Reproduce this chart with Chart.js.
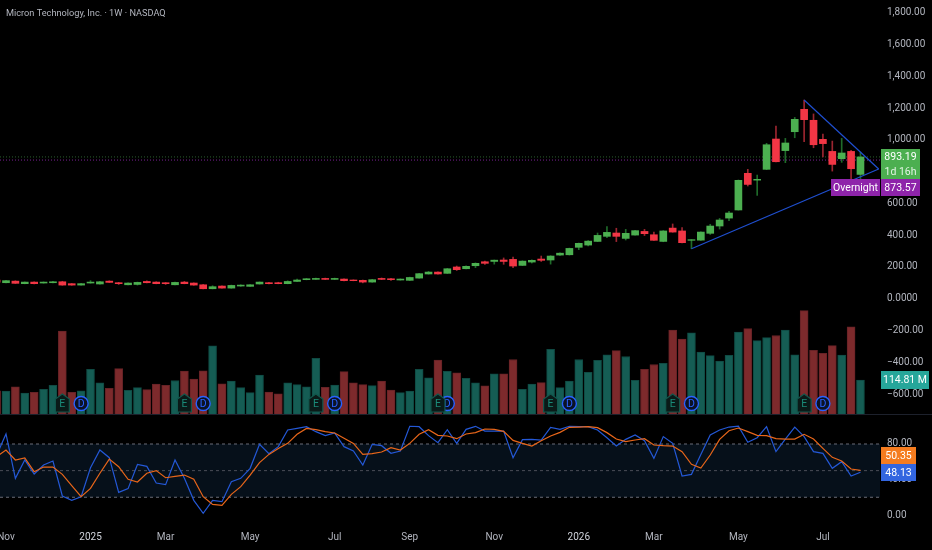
<!DOCTYPE html>
<html>
<head>
<meta charset="utf-8">
<title>Micron Technology</title>
<script src="https://cdn.jsdelivr.net/npm/chart.js@4/dist/chart.umd.min.js"></script>
<style>
  html, body { margin: 0; padding: 0; background: #000; overflow: hidden; }
  canvas { display: block; }
</style>
</head>
<body>
<canvas id="chart" width="932" height="550"></canvas>
<script>
// weekly candles, oldest first
const opens = [
  118, 101, 111, 95, 105, 99, 101, 107, 95, 86,
  99, 93, 111, 101, 88, 90, 109, 105, 101, 88,
  105, 99, 88, 63, 80, 67, 80, 78, 93, 101,
  101, 95, 109, 120, 122, 128, 122, 124, 118, 116,
  105, 128, 126, 118, 116, 130, 156, 168, 160, 200,
  189, 208, 233, 235, 244, 248, 210, 231, 250, 244,
  275, 277, 324, 338, 361, 393, 414, 380, 401, 424,
  403, 361, 445, 427, 368, 369, 412, 458, 508, 559,
  790, 747, 815, 1006, 933, 1052, 1193, 1124, 1004, 928,
  882, 928, 783
];
const closes = [
  105, 114, 97, 105, 95, 105, 107, 86, 86, 95,
  105, 107, 103, 95, 99, 103, 101, 95, 95, 103,
  95, 86, 63, 76, 67, 84, 86, 88, 105, 95,
  95, 109, 118, 126, 128, 122, 128, 114, 114, 105,
  120, 122, 120, 124, 134, 158, 168, 156, 189, 183,
  204, 223, 223, 243, 235, 206, 237, 242, 242, 269,
  287, 317, 349, 363, 399, 418, 393, 412, 429, 410,
  368, 427, 420, 353, 372, 420, 458, 496, 540, 746,
  720, 752, 970, 863, 981, 1130, 1128, 970, 977, 846,
  918, 819, 893.19
];
const highs = [
  120, 116, 113, 106, 107, 106, 110, 110, 96, 97,
  114, 109, 113, 103, 100, 105, 113, 107, 102, 105,
  109, 100, 90, 82, 82, 86, 88, 90, 106, 104,
  104, 113, 124, 128, 130, 130, 130, 125, 119, 118,
  122, 131, 128, 125, 136, 160, 172, 170, 191, 206,
  208, 226, 238, 244, 257, 263, 239, 245, 269, 271,
  289, 319, 351, 367, 414, 454, 444, 437, 431, 437,
  420, 429, 471, 448, 372, 422, 469, 506, 550, 748,
  815, 779, 979, 1088, 1010, 1142, 1252, 1164, 1037, 993,
  1010, 934, 924
];
const lows = [
  104, 100, 96, 94, 94, 98, 100, 85, 85, 85,
  98, 92, 102, 90, 87, 86, 100, 94, 90, 87,
  94, 85, 62, 62, 66, 66, 78, 77, 92, 94,
  94, 94, 108, 119, 121, 121, 121, 113, 113, 100,
  104, 121, 115, 117, 115, 129, 155, 155, 159, 178,
  188, 196, 216, 218, 217, 196, 209, 225, 235, 218,
  273, 275, 309, 333, 360, 385, 360, 370, 400, 398,
  367, 359, 419, 352, 315, 367, 405, 439, 491, 558,
  710, 651, 813, 862, 857, 1014, 989, 951, 893, 804,
  859, 752, 756
];
// volume in millions
const volumes = [
  78, 77, 92, 71, 73, 83, 97, 280, 73, 78,
  151, 105, 87, 153, 80, 89, 82, 101, 97, 113,
  145, 118, 146, 230, 102, 111, 89, 72, 131, 74,
  68, 105, 99, 92, 188, 90, 98, 143, 105, 99,
  96, 111, 81, 72, 77, 151, 122, 182, 144, 139,
  120, 105, 95, 136, 136, 184, 83, 101, 106, 218,
  89, 111, 184, 141, 181, 200, 214, 194, 114, 151,
  167, 171, 283, 253, 274, 209, 197, 179, 198, 277,
  288, 248, 258, 265, 283, 200, 349, 215, 205, 231,
  199, 294, 114.81
];
const stochK = [
  67.6, 91.3, 41.3, 62, 46.2, 56.3, 60.8, 21.4, 16.5, 20.6,
  53.3, 73.2, 64.6, 25.5, 29.7, 57, 54.8, 36, 34.2, 62,
  41.3, 16.5, 1.9, 16.5, 15, 37.5, 41.3, 52.6, 79.6, 69.1,
  77, 95.8, 97.6, 99.5, 93.9, 89.4, 92.4, 77, 72.1, 56.3,
  79.6, 78.1, 69.5, 72.1, 100, 99.5, 89.4, 81.5, 96.1, 80.7,
  96.5, 99.9, 94.6, 94.6, 94.6, 64.6, 84.9, 85.2, 84.5, 98.8,
  96.5, 100, 99.5, 99.5, 95.8, 87.1, 77.7, 85.2, 90.1, 83.7,
  63.8, 88.3, 80.7, 43.9, 45.8, 68.3, 90.1, 95.8, 99.1, 100,
  81.9, 87.1, 99.5, 71.4, 85.6, 99.1, 88.3, 71.4, 69.5, 52.6,
  60.1, 43.9, 48.13
];
const stochD = [
  65.7, 73.2, 62, 64.2, 48.8, 54, 54, 45.8, 33, 20.6,
  30, 47, 63, 54.4, 40.2, 37.2, 47, 50, 42, 43.6,
  45, 40.2, 20.6, 12, 10.9, 23.3, 31.9, 45, 59, 68.3,
  75, 80.7, 90.9, 97.6, 96.1, 93.9, 92.4, 86.4, 80.7, 68.3,
  69.1, 71, 75.9, 73.2, 80.7, 90.9, 96.1, 89.8, 89, 86,
  91.3, 92.8, 96.9, 96.5, 94.3, 84.1, 80.7, 77.7, 83.7, 89,
  93.1, 98.8, 99.1, 99.5, 98.4, 92.8, 85.6, 82.6, 84.5, 86,
  78.9, 78.1, 77.7, 71.4, 57.1, 52.9, 67.6, 85.2, 95, 98,
  93.9, 89.8, 89.4, 86, 85.6, 85.6, 90.9, 85.6, 75.1, 65,
  60.8, 51.8, 50.35
];

const priceTicks = [1800, 1600, 1400, 1200, 1000, 600, 400, 200, 0, -200, -400, -600];
const priceTickLabels = ["1,800.00", "1,600.00", "1,400.00", "1,200.00", "1,000.00", "600.00", "400.00", "200.00", "0.0000", "−200.00", "−400.00", "−600.00"];
const stochTicks = [80, 40, 0];
const stochBands = [80, 50, 20];
const monthBars = [1, 10, 18, 27, 36, 44, 53, 62, 70, 79, 88];
const monthLabels = ["Nov", "2025", "Mar", "May", "Jul", "Sep", "Nov", "2026", "Mar", "May", "Jul"];
const earningsBars = [7, 20, 34, 47, 59, 72, 86];
const dividendBars = [9, 22, 36, 48, 61, 74, 88];
const upperTrend = [[86, 1252], [93.94, 817]];
const lowerTrend = [[74, 315], [93.94, 817]];
const lastClose = 893.19;
const overnightPrice = 873.57;

// visible range of the shared time axis
const xFirst = 0.361;
const xLast = 94.08;

const GREEN = "#4caf50", RED = "#f23645";
const TEXT = "#b2b5be";
const FONT = "Roboto, sans-serif";

const isDown = i => closes[i] < opens[i];
const toPoints = arr => arr.map((v, i) => ({ x: i, y: v }));
const fullWidth = v => [{ x: xFirst, y: v }, { x: xLast, y: v }];

// chart.js assumes the first and last tick sit at the axis ends, they don't here
function noPadding(s) {
  s.paddingLeft = s.paddingRight = s.paddingTop = s.paddingBottom = 0;
}

function levelLine(value, axis, color, dash, order) {
  return {
    type: "line", yAxisID: axis, data: fullWidth(value), order,
    borderColor: color, borderWidth: 1, borderDash: dash, pointRadius: 0, tension: 0
  };
}

const overlays = {
  id: "overlays",
  afterDatasetsDraw(chart) {
    const { ctx, scales } = chart;
    const xs = scales.x, baseY = scales.yVol.getPixelForValue(0);
    ctx.save();

    // pane separator
    ctx.strokeStyle = "#1e222d";
    ctx.beginPath();
    ctx.moveTo(0, baseY + 0.5);
    ctx.lineTo(932, baseY + 0.5);
    ctx.stroke();

    ctx.textAlign = "center";
    ctx.textBaseline = "middle";
    ctx.font = "10.5px " + FONT;

    // D markers first, the E flags sit over them
    dividendBars.forEach(i => {
      const x = xs.getPixelForValue(i), y = baseY - 10.5;
      ctx.beginPath();
      ctx.arc(x, y, 7, 0, Math.PI * 2);
      ctx.fillStyle = "#0b1226";
      ctx.fill();
      ctx.lineWidth = 1.4;
      ctx.strokeStyle = "#2962ff";
      ctx.stroke();
      ctx.fillStyle = "#2962ff";
      ctx.fillText("D", x, y + 0.5);
    });
    earningsBars.forEach(i => {
      const x = xs.getPixelForValue(i), y = baseY - 2;
      ctx.beginPath();
      ctx.moveTo(x, y - 18);
      ctx.lineTo(x + 7, y - 13);
      ctx.lineTo(x + 7, y);
      ctx.lineTo(x - 7, y);
      ctx.lineTo(x - 7, y - 13);
      ctx.closePath();
      ctx.fillStyle = "#0a1a18";
      ctx.fill();
      ctx.lineWidth = 1.2;
      ctx.strokeStyle = "#12574d";
      ctx.stroke();
      ctx.fillStyle = "#1a8a78";
      ctx.fillText("E", x, y - 8);
    });

    // title
    ctx.textAlign = "left";
    ctx.font = "9.2px " + FONT;
    ctx.fillStyle = TEXT;
    ctx.fillText("Micron Technology, Inc. · 1W · NASDAQ", 6, 14);

    // last value tags
    ctx.textAlign = "center";
    ctx.font = "10.5px " + FONT;
    const tag = (x, y, w, h, bg, text, fg) => {
      if (bg) { ctx.fillStyle = bg; ctx.fillRect(x, y, w, h); }
      ctx.fillStyle = fg || "#fff";
      ctx.fillText(text, x + w / 2, y + h / 2 + 0.5);
    };
    tag(881, 149, 39, 30, GREEN, "");
    tag(881, 149, 39, 16, null, lastClose.toFixed(2));
    tag(881, 164, 39, 15, null, "1d 16h", "#e3f4e4");
    tag(831, 179, 49, 17, "#8e24aa", "Overnight");
    tag(881, 179, 39, 17, "#8e24aa", overnightPrice.toFixed(2));
    tag(881, 371, 48, 18, "#26a69a", volumes[volumes.length - 1].toFixed(2) + " M");
    tag(881, 447, 35, 17, "#f57c1f", stochD[stochD.length - 1].toFixed(2));
    tag(881, 464, 35, 17, "#3366e0", stochK[stochK.length - 1].toFixed(2));

    ctx.restore();
  }
};

new Chart(document.getElementById("chart").getContext("2d"), {
  type: "bar",
  data: {
    datasets: [
      // stochastic pane
      {
        type: "line", yAxisID: "yRsi", data: fullWidth(stochBands[0]), order: 30,
        backgroundColor: "#06101a", borderWidth: 0, pointRadius: 0,
        fill: { value: stochBands[2] }
      },
      levelLine(stochBands[0], "yRsi", "#6a6d78", [3, 3], 29),
      levelLine(stochBands[1], "yRsi", "#4a4d57", [3, 3], 29),
      levelLine(stochBands[2], "yRsi", "#6a6d78", [3, 3], 29),
      {
        type: "line", yAxisID: "yRsi", data: toPoints(stochK), order: 3,
        borderColor: "#2458d6", borderWidth: 1.2, pointRadius: 0, tension: 0
      },
      {
        type: "line", yAxisID: "yRsi", data: toPoints(stochD), order: 2,
        borderColor: "#e8661a", borderWidth: 1.2, pointRadius: 0, tension: 0
      },
      // volume
      {
        yAxisID: "yVol", data: toPoints(volumes), order: 20, grouped: false, barThickness: 8,
        backgroundColor: volumes.map((v, i) => isDown(i) ? "#7d2a2c" : "#155d54"),
        borderColor: volumes.map((v, i) => isDown(i) ? "#672226" : "#0f4a43"),
        borderWidth: 1
      },
      // price lines
      levelLine(lastClose, "yPrice", "#2b5e2e", [1, 2], 15),
      levelLine(overnightPrice, "yPrice", "#7b1f96", [1, 2], 15),
      // candles
      {
        yAxisID: "yPrice", order: 10, grouped: false, barThickness: 1,
        data: lows.map((v, i) => ({ x: i, y: [v, highs[i]] })),
        backgroundColor: lows.map((v, i) => isDown(i) ? "#9c2530" : "#1f6b2a")
      },
      {
        yAxisID: "yPrice", order: 9, grouped: false, barThickness: 7,
        data: opens.map((v, i) => ({ x: i, y: [v, closes[i]] })),
        backgroundColor: opens.map((v, i) => isDown(i) ? RED : GREEN)
      },
      // triangle drawn on the chart
      {
        type: "line", yAxisID: "yPrice", order: 1, pointRadius: 0, tension: 0,
        data: upperTrend.map(p => ({ x: p[0], y: p[1] })),
        borderColor: "#1f4fd0", borderWidth: 1.2
      },
      {
        type: "line", yAxisID: "yPrice", order: 1, pointRadius: 0, tension: 0,
        data: lowerTrend.map(p => ({ x: p[0], y: p[1] })),
        borderColor: "#1f4fd0", borderWidth: 1.2
      }
    ]
  },
  options: {
    responsive: false,
    animation: false,
    layout: { autoPadding: false, padding: 0 },
    plugins: { legend: { display: false }, tooltip: { enabled: false }, title: { display: false } },
    scales: {
      x: {
        type: "linear", offset: false, min: xFirst, max: xLast,
        grid: { display: false, drawTicks: false }, border: { display: false },
        afterBuildTicks: s => { s.ticks = monthBars.map(v => ({ value: v })); },
        afterFit: s => { s.height = 30; noPadding(s); },
        ticks: {
          autoSkip: false, maxRotation: 0, padding: 11,
          font: { family: FONT, size: 10 },
          color: ctx => /^20/.test(monthLabels[monthBars.indexOf(ctx.tick.value)]) ? "#d1d4dc" : TEXT,
          callback: v => monthLabels[monthBars.indexOf(v)]
        }
      },
      yPrice: {
        position: "right", stack: "panes", stackWeight: 414, min: -725.9, max: 1881.6,
        grid: { display: false, drawTicks: false }, border: { display: false },
        afterBuildTicks: s => { s.ticks = priceTicks.map(v => ({ value: v })); },
        afterFit: s => { s.width = 52; noPadding(s); },
        ticks: {
          autoSkip: false, padding: 7, color: TEXT, font: { family: FONT, size: 10 },
          callback: v => priceTickLabels[priceTicks.indexOf(v)]
        }
      },
      yRsi: {
        position: "right", stack: "panes", stackWeight: 106, min: -5.63, max: 113.8,
        grid: { display: false, drawTicks: false }, border: { display: false },
        afterBuildTicks: s => { s.ticks = stochTicks.map(v => ({ value: v })); },
        afterFit: s => { s.width = 52; noPadding(s); },
        ticks: {
          autoSkip: false, padding: 7, color: TEXT, font: { family: FONT, size: 10 },
          callback: v => v.toFixed(2)
        }
      },
      yVol: { display: false, position: "right", min: -358, max: 1398 }
    }
  },
  plugins: [overlays]
});
</script>
</body>
</html>
